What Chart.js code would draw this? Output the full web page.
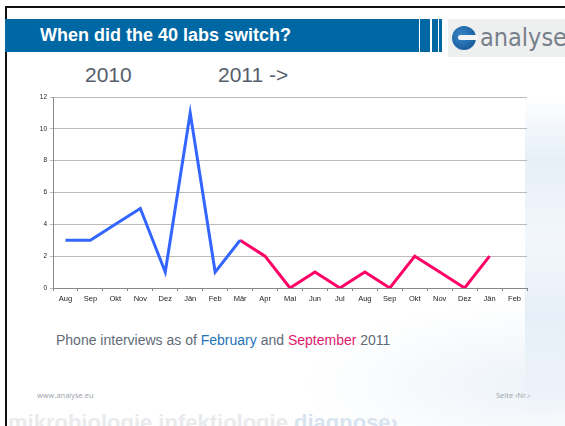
<!DOCTYPE html>
<html><head><meta charset="utf-8">
<script src="https://cdn.jsdelivr.net/npm/chart.js@4/dist/chart.umd.min.js"></script>
<style>
html,body{margin:0;padding:0;background:#fff;}
body{width:565px;height:426px;position:relative;overflow:hidden;font-family:"Liberation Sans",Arial,sans-serif;}
.abs{position:absolute;}
#bgr{left:525px;top:95px;width:60px;height:320px;background:linear-gradient(180deg,rgba(225,235,245,0) 0%,rgba(220,232,244,0.7) 20%,rgba(235,242,250,0.6) 45%,rgba(220,232,244,0.7) 70%,rgba(235,242,250,0) 100%);}
#bgb{left:300px;top:300px;width:300px;height:140px;background:radial-gradient(ellipse at 80% 60%,rgba(225,235,245,0.6),rgba(255,255,255,0) 70%);}
#topline{left:5px;top:6px;width:560px;height:2px;background:#111;}
#leftline{left:5px;top:6px;width:2px;height:420px;background:#111;}
#hdr{left:5px;top:19px;width:414px;height:33px;background:#0067a5;}
.st{top:19px;height:33px;background:#0067a5;}
#title{left:40px;top:19px;height:33px;line-height:33px;color:#fff;font-weight:bold;font-size:18px;}
#logo{left:448px;top:19px;width:117px;height:38px;background:#eef0f0;}
#ico{left:452px;top:26px;width:24px;height:24px;border-radius:50%;background:radial-gradient(circle at 40% 40%,#3a86c8,#0b4f8f);}
#ico2{left:458px;top:35px;width:20px;height:5px;background:#f4f6f8;border-radius:3px;}
#ltxt{left:480px;top:20px;height:36px;line-height:36px;color:#77808a;font-size:25px;font-family:"Liberation Sans Narrow","DejaVu Sans Condensed",sans-serif;}
#y2010{left:85px;top:63px;font-size:21px;color:#555e6b;}
#y2011{left:218px;top:63px;font-size:21px;color:#555e6b;}
#phone{left:56px;top:332px;font-size:14px;color:#5f6b78;white-space:nowrap;}
#foot1{left:37px;top:390px;font-size:7.5px;color:#9aa0a6;font-family:"Open Sans",sans-serif;}
#foot2{left:496px;top:390px;font-size:7.5px;color:#9aa0a6;font-family:"Open Sans",sans-serif;}
#wm{left:8px;top:410px;font-size:22px;font-weight:bold;color:#e9eaec;white-space:nowrap;}
#cw{left:20px;top:90px;width:515px;height:218px;}
</style></head><body>
<div id="bgr" class="abs"></div>
<div id="bgb" class="abs"></div>
<div id="wm" class="abs">mikrobiologie infektiologie <span style="color:#d8e3f0">diagnose›</span></div>
<div id="topline" class="abs"></div>
<div id="leftline" class="abs"></div>
<div id="hdr" class="abs"></div>
<div class="abs st" style="left:420px;width:10px"></div>
<div class="abs st" style="left:432px;width:6px"></div>
<div class="abs st" style="left:439px;width:3px"></div>
<div id="title" class="abs">When did the 40 labs switch?</div>
<div id="logo" class="abs"></div>
<div id="ico" class="abs"></div>
<div id="ico2" class="abs"></div>
<div id="ltxt" class="abs">analyse</div>
<div id="y2010" class="abs">2010</div>
<div id="y2011" class="abs">2011 -&gt;</div>
<div id="cw" class="abs"><canvas id="c" width="515" height="218"></canvas></div>
<div id="phone" class="abs">Phone interviews as of <span style="color:#1f74b8">February</span> and <span style="color:#e0196e">September</span> 2011</div>
<div id="foot1" class="abs">www.analyse.eu</div>
<div id="foot2" class="abs">Seite ‹Nr.›</div>
<script>
const months = ["Aug","Sep","Okt","Nov","Dez","Jän","Feb","Mär","Apr","Mai","Jun","Jul","Aug","Sep","Okt","Nov","Dez","Jän","Feb"];
const februaryWave = [3,3,4,5,1,11,1,3,null,null,null,null,null,null,null,null,null,null,null];
const septemberWave = [null,null,null,null,null,null,null,3,2,0,1,0,1,0,2,1,0,2,null];
const yTicks = [0,2,4,6,8,10,12];

new Chart(document.getElementById('c'), {
  type: 'line',
  data: {
    labels: months,
    datasets: [
      {data: februaryWave, borderColor:'#3366ff', borderWidth:3, pointRadius:0, tension:0, borderJoinStyle:'miter', spanGaps:false},
      {data: septemberWave, borderColor:'#ff0066', borderWidth:3, pointRadius:0, tension:0, borderJoinStyle:'miter', spanGaps:false}
    ]
  },
  options: {
    responsive:false, animation:false, devicePixelRatio:1,
    layout:{padding:{top:7,right:8,bottom:0,left:0}},
    plugins:{legend:{display:false}, tooltip:{enabled:false}},
    scales:{
      x:{
        offset:true,
        grid:{display:true, drawOnChartArea:false, drawTicks:true, tickLength:3, color:'#888', offset:true},
        border:{color:'#888', width:1},
        ticks:{color:'#222', font:{size:7.5, family:'"Liberation Sans", Arial, sans-serif'}, maxRotation:0, autoSkip:false, padding:3},
        afterFit:s=>{s.height=20;}
      },
      y:{
        min:0, max:12,
        afterBuildTicks:s=>{s.ticks=yTicks.map(v=>({value:v}));},
        grid:{color:'#bbb', tickLength:3, drawTicks:true},
        border:{color:'#888', width:1},
        ticks:{color:'#222', font:{size:6.5, family:'"Liberation Sans", Arial, sans-serif'}, padding:3},
        afterFit:s=>{s.width=33;}
      }
    }
  }
});
</script>
</body></html>
